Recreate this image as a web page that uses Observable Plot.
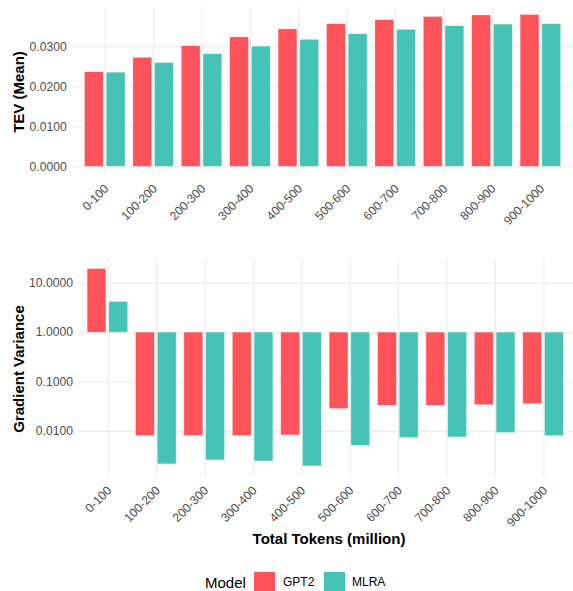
<!DOCTYPE html>
<html>
<head>
<meta charset="utf-8">
<script src="https://cdn.jsdelivr.net/npm/d3@7"></script>
<script src="https://cdn.jsdelivr.net/npm/@observablehq/plot@0.6"></script>
<style>
  body { margin: 0; background: #fff; }
  #chart { position: relative; width: 573px; height: 591px; overflow: hidden;
           font-family: "Liberation Sans", Arial, Helvetica, sans-serif; color: #000; }
  .panel { position: absolute; left: 0; }
  .ytitle { position: absolute; font-weight: bold; font-size: 15px; white-space: nowrap;
            transform: translate(-50%, -50%) rotate(-90deg); }
  .xtitle { position: absolute; font-weight: bold; font-size: 15px; line-height: 15px;
            white-space: nowrap; transform: translateX(-50%); }
  .lg { position: absolute; top: 572px; height: 21px; line-height: 21px; white-space: nowrap; }
  .sw { width: 21px; }
</style>
</head>
<body>
<div id="chart"></div>
<script>
// Token ranges (million tokens) on the x axis
const categories = ["0-100", "100-200", "200-300", "300-400", "400-500",
                    "500-600", "600-700", "700-800", "800-900", "900-1000"];
const models = ["GPT2", "MLRA"];
const colors = ["#FF535B", "#45C4B6"];

// TEV (mean) per token range
const tevGPT2 = [0.0236, 0.0272, 0.0301, 0.0323, 0.0343, 0.0356, 0.0366, 0.0374, 0.0378, 0.0379];
const tevMLRA = [0.0235, 0.0259, 0.0281, 0.0300, 0.0317, 0.0331, 0.0342, 0.0351, 0.0355, 0.0356];

// Gradient variance per token range (log scale, bars drawn from 1)
const gradGPT2 = [19.3, 0.0081, 0.0081, 0.0081, 0.0083, 0.0284, 0.0331, 0.0331, 0.0341, 0.0357];
const gradMLRA = [4.17, 0.00215, 0.00259, 0.00247, 0.00196, 0.00509, 0.00736, 0.00758, 0.00926, 0.00805];

// Axis tick labels
const tevTicks = [0, 0.01, 0.02, 0.03];
const gradTicks = [0.01, 0.1, 1, 10];

const rows = (a, b) => categories.flatMap((c, i) => [
  {range: c, model: models[0], value: a[i]},
  {range: c, model: models[1], value: b[i]}
]);

const gridColor = "#EBEBEB";
const tickColor = "#4D4D4D";
const fmt = d3.format(".4f");
const fontFamily = '"Liberation Sans", Arial, Helvetica, sans-serif';

// One panel = a y-grid layer (full width) under a faceted bar layer
function panel({height, marginTop, marginBottom, marginLeft, y, ticks, bars}) {
  const common = {
    width: 580, height, marginTop, marginBottom, marginLeft, marginRight: 0,
    style: {fontFamily, background: "transparent", overflow: "visible"},
    y: {...y, axis: null}
  };
  const gridLayer = Plot.plot({
    ...common,
    x: {axis: null},
    marks: [
      Plot.ruleY(ticks, {y: d => d, stroke: gridColor, strokeWidth: 1.1}),
      Plot.text(ticks, {y: d => d, text: fmt, frameAnchor: "left", textAnchor: "end",
                        dx: -5.5, fill: tickColor, fontSize: 12.3})
    ]
  });
  const barLayer = Plot.plot({
    ...common,
    fx: {domain: categories, paddingInner: 0.15, paddingOuter: 0.175, axis: null, label: null},
    x: {domain: models, paddingInner: 0.12, paddingOuter: 0, axis: null},
    color: {domain: models, range: colors},
    marks: [
      Plot.ruleX(categories, {fx: d => d, x: null, stroke: gridColor, strokeWidth: 1.1}),
      bars,
      Plot.text(categories, {fx: d => d, x: null, text: d => d, frameAnchor: "bottom",
                             rotate: -45, textAnchor: "end", lineAnchor: "top",
                             dx: -2, dy: 9, fill: tickColor, fontSize: 12.3})
    ]
  });
  return [gridLayer, barLayer];
}

// ggplot-style 5% expansion of the value range
const tevMax = d3.max([...tevGPT2, ...tevMLRA]);
const tevPad = 0.05 * tevMax;
const gradLog = d3.extent([...gradGPT2, ...gradMLRA, 1], v => Math.log10(v));
const gradPad = 0.05 * (gradLog[1] - gradLog[0]);

const tevLayers = panel({
  height: 235, marginTop: 7, marginBottom: 59, marginLeft: 72.5,
  y: {domain: [-tevPad, tevMax + tevPad]},
  ticks: tevTicks,
  bars: Plot.barY(rows(tevGPT2, tevMLRA), {
    fx: "range", x: "model", y1: 0, y2: "value", fill: "model",
    stroke: "white", strokeWidth: 0.5, strokeOpacity: 0.6
  })
});

const gradLayers = panel({
  height: 300, marginTop: 24, marginBottom: 56.3, marginLeft: 78.8,
  y: {type: "log", domain: [10 ** (gradLog[0] - gradPad), 10 ** (gradLog[1] + gradPad)]},
  ticks: gradTicks,
  bars: Plot.barY(rows(gradGPT2, gradMLRA), {
    fx: "range", x: "model", y1: 1, y2: "value", fill: "model",
    stroke: "white", strokeWidth: 0.5, strokeOpacity: 0.6
  })
});

const chart = document.getElementById("chart");
for (const [layers, offset] of [[tevLayers, 0], [gradLayers, 235]]) {
  for (const svg of layers) {
    svg.classList.add("panel");
    svg.style.top = offset + "px";
    chart.append(svg);
  }
}

function add(cls, text, style) {
  const el = document.createElement("div");
  el.className = cls;
  if (text) el.textContent = text;
  Object.assign(el.style, style);
  chart.append(el);
  return el;
}

add("ytitle", "TEV (Mean)", {left: "18px", top: "91.5px"});
add("ytitle", "Gradient Variance", {left: "18px", top: "369px"});
add("xtitle", "Total Tokens (million)", {left: "329px", top: "531px"});

// Legend
add("lg", "Model", {left: "205px", fontSize: "15px"});
add("lg sw", "", {left: "254px", background: colors[0]});
add("lg", models[0], {left: "283px", fontSize: "12px"});
add("lg sw", "", {left: "324px", background: colors[1]});
add("lg", models[1], {left: "352px", fontSize: "12px"});
</script>
</body>
</html>
